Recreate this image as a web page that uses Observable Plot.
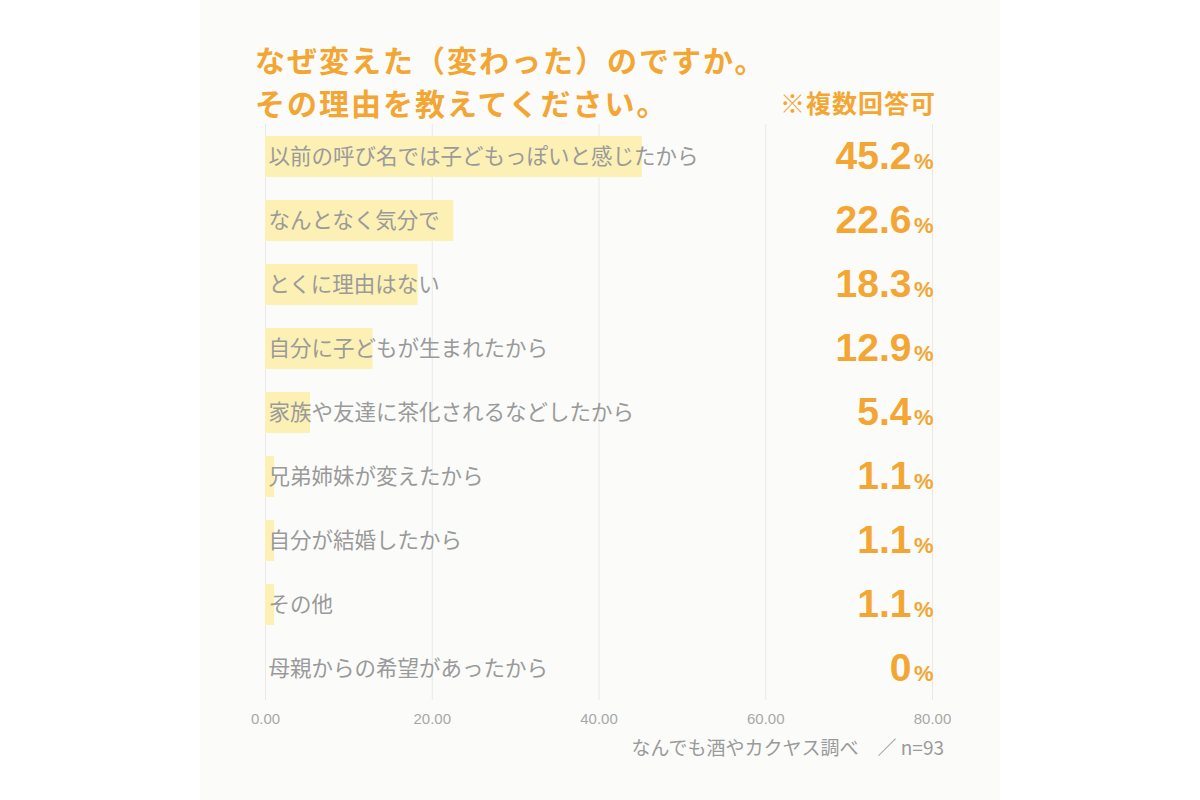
<!DOCTYPE html>
<html><head><meta charset="utf-8">
<script src="https://cdn.jsdelivr.net/npm/d3@7"></script>
<script src="https://cdn.jsdelivr.net/npm/@observablehq/plot@0.6"></script>
<style>
  html, body { margin: 0; padding: 0; background: #ffffff; }
  #panel { position: absolute; left: 200px; top: 0; width: 800px; height: 800px; background: #fbfcfa; font-family: "Noto Sans CJK JP", sans-serif; }
  .title { position: absolute; left: 55px; color: #f3a633; font-weight: bold; font-size: 30px; line-height: 44px; letter-spacing: 2px; white-space: nowrap; }
  .t1 { top: 37px; }
  .t2 { top: 80px; }
  .note { position: absolute; right: 64px; top: 86px; color: #f3a633; font-weight: bold; font-size: 25px; line-height: 32px; letter-spacing: 1px; }
  #chart { position: absolute; left: 0; top: 110px; }
  .caption { position: absolute; right: 56px; top: 734px; color: #9a9a9a; font-size: 19px; line-height: 26px; font-family: "Noto Sans CJK JP", sans-serif; }
</style>
</head><body>
<div id="panel">
  <div class="title t1">なぜ変えた（変わった）のですか。</div>
  <div class="title t2">その理由を教えてください。</div>
  <div class="note">※複数回答可</div>
  <div id="chart"></div>
  <div class="caption">なんでも酒やカクヤス調べ　／ n=93</div>
</div>
<script>
const categories = [
  "以前の呼び名では子どもっぽいと感じたから",
  "なんとなく気分で",
  "とくに理由はない",
  "自分に子どもが生まれたから",
  "家族や友達に茶化されるなどしたから",
  "兄弟姉妹が変えたから",
  "自分が結婚したから",
  "その他",
  "母親からの希望があったから"
];
const values = [45.2, 22.6, 18.3, 12.9, 5.4, 1.1, 1.1, 1.1, 0];
const xTicks = [0, 20, 40, 60, 80];

const data = categories.map((c, i) => ({label: c, value: values[i]}));
const orange = "#f3a633";

const chart = Plot.plot({
  width: 800,
  height: 630,
  marginLeft: 65,
  marginRight: 68,
  marginTop: 14,
  marginBottom: 40,
  style: {background: "transparent", color: "#a8a8a8", fontSize: "15px", fontFamily: "'Liberation Sans Narrow', 'Liberation Sans', sans-serif"},
  x: {domain: [0, 80], ticks: xTicks, tickFormat: d3.format(".2f"), label: null, tickSize: 0, tickPadding: 13},
  y: {domain: categories, paddingInner: 0.36, paddingOuter: 0.18, axis: null},
  marks: [
    Plot.ruleX(xTicks, {stroke: "#e8e9e8", strokeWidth: 1}),
    Plot.barX(data, {x: "value", y: "label", fill: "#fcf0b4"}),
    Plot.text(data, {x: 0, y: "label", text: "label", textAnchor: "start", dx: 3, fill: "#9a9a9a", fontSize: 21.5, fontFamily: "'Noto Sans CJK JP', sans-serif"}),
    Plot.text(data, {x: () => 80, y: "label", text: d => d.value === 0 ? "0" : d.value.toFixed(1), textAnchor: "end", dx: -21, fill: orange, fontSize: 39, fontWeight: "bold", fontFamily: "'Liberation Sans', Arial, sans-serif"}),
    Plot.text(data, {x: () => 80, y: "label", text: () => "%", textAnchor: "end", dx: 1, dy: 5, fill: orange, fontSize: 22, fontWeight: "bold", fontFamily: "'Liberation Sans', Arial, sans-serif"})
  ]
});
document.getElementById("chart").appendChild(chart);
</script>
</body></html>
